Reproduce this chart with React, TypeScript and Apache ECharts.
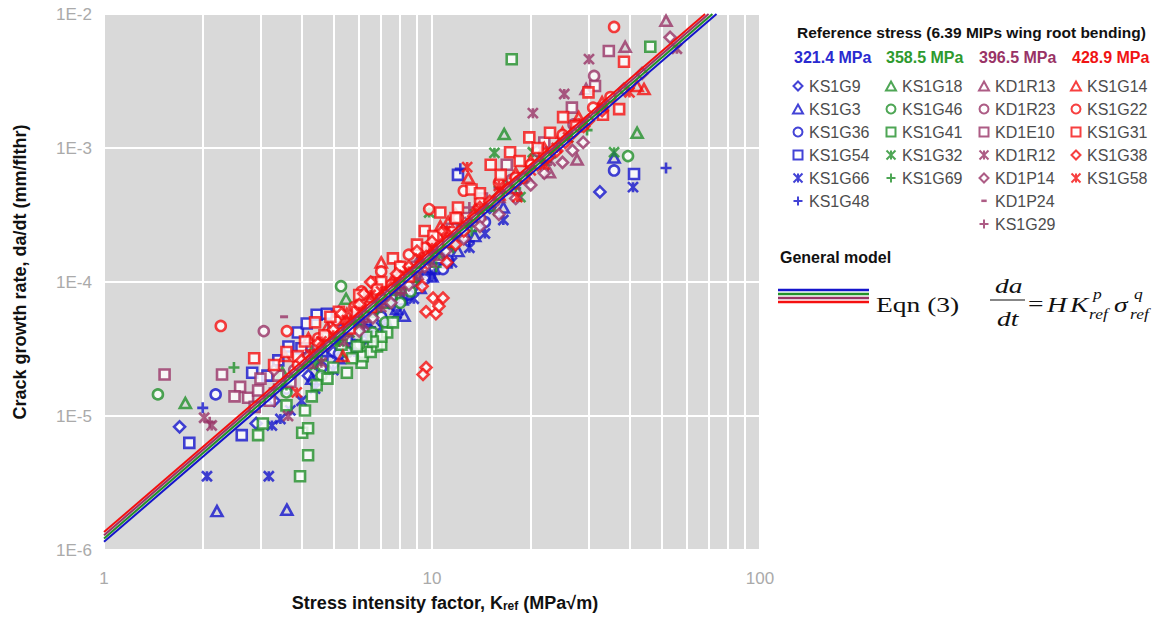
import React, { useEffect, useRef } from "react";
import * as echarts from "echarts";

// ---------- axis ticks ----------
const xMinorTicks = [2, 3, 4, 5, 6, 7, 8, 9, 20, 30, 40, 50, 60, 70, 80, 90];
const yMinorTicks = [
  2e-6, 3e-6, 4e-6, 5e-6, 6e-6, 7e-6, 8e-6, 9e-6,
  2e-5, 3e-5, 4e-5, 5e-5, 6e-5, 7e-5, 8e-5, 9e-5,
  2e-4, 3e-4, 4e-4, 5e-4, 6e-4, 7e-4, 8e-4, 9e-4,
  2e-3, 3e-3, 4e-3, 5e-3, 6e-3, 7e-3, 8e-3, 9e-3,
];

// ---------- stress groups ----------
const stressGroups = ["321.4 MPa", "358.5 MPa", "396.5 MPa", "428.9 MPa"];

// ---------- 321.4 MPa ----------
const KS1G9 = [[1.7, 8.3e-6], [2.91, 8.8e-6], [32.5, 4.7e-4], [3.3, 1.3e-5], [4.2, 2.0e-5], [5.0, 3.0e-5], [6.2, 4.6e-5], [7.4, 7.0e-5], [8.8, 1.0e-4], [10.5, 1.6e-4], [12.5, 2.4e-4], [15, 3.6e-4], [18.5, 5.8e-4], [5.6, 3.5e-5], [9.5, 1.2e-4], [11.5, 1.9e-4]];
const KS1G3 = [[2.21, 1.95e-6], [3.61, 2.0e-6], [8.1, 7.4e-5], [8.22, 5.6e-5], [35.9, 8.5e-4], [4.3, 1.9e-5], [5.2, 2.7e-5], [6.3, 4.0e-5], [7.2, 5.2e-5], [9.2, 9.0e-5], [11, 1.4e-4], [13.5, 2.2e-4], [16.5, 3.6e-4], [5.8, 3.3e-5], [7.8, 6.3e-5], [10, 1.1e-4], [12, 1.7e-4]];
const KS1G36 = [[2.19, 1.45e-5], [35.9, 6.8e-4], [10.8, 1.25e-4], [11.2, 1.45e-4], [3.6, 1.6e-5], [4.6, 2.3e-5], [5.8, 3.4e-5], [7.0, 5.5e-5], [8.5, 8.0e-5], [12.5, 2.2e-4], [14.5, 2.8e-4], [5.2, 2.9e-5], [6.4, 4.4e-5], [9.5, 1.05e-4]];
const KS1G54 = [[1.82, 6.3e-6], [2.63, 7.2e-6], [41.3, 6.4e-4], [2.83, 2.1e-5], [3.15, 2.0e-5], [3.65, 3.3e-5], [3.9, 4.2e-5], [4.15, 4.9e-5], [4.45, 5.7e-5], [4.78, 5.8e-5], [12.0, 6.3e-4], [3.4, 2.6e-5], [5.2, 4.4e-5], [6.0, 5.2e-5], [7.5, 8.0e-5], [9.5, 1.3e-4], [11.5, 2.0e-4], [4.0, 3.2e-5], [5.5, 3.8e-5], [6.5, 6.2e-5], [8.4, 1.0e-4], [10.5, 1.5e-4]];
const KS1G66 = [[2.06, 3.55e-6], [3.18, 3.55e-6], [41.0, 5.1e-4], [3.25, 8.5e-6], [3.45, 9.5e-6], [3.7, 1.1e-5], [4.0, 1.3e-5], [4.4, 1.6e-5], [5.0, 2.2e-5], [5.8, 3.0e-5], [7.0, 4.6e-5], [8.8, 7.5e-5], [11.5, 1.4e-4], [14.5, 2.3e-4], [6.4, 3.7e-5], [7.8, 5.8e-5], [10, 1.1e-4], [13, 1.8e-4], [16.5, 2.9e-4]];
const KS1G48 = [[2.0, 1.15e-5], [51.7, 7.1e-4], [12.2, 7.0e-4], [4.8, 2.8e-5], [6.5, 4.6e-5], [8.4, 7.5e-5], [10.2, 1.15e-4], [13, 2.0e-4]];

// ---------- 358.5 MPa ----------
const KS1G18 = [[1.77, 1.25e-5], [42.2, 1.3e-3], [16.6, 1.27e-3], [5.47, 7.5e-5], [3.5, 2.1e-5], [4.3, 3.0e-5], [6.5, 6.0e-5], [7.8, 9.0e-5], [9.6, 1.5e-4], [12.5, 2.8e-4], [5.0, 4.2e-5], [5.8, 5.0e-5], [7.2, 7.0e-5], [8.6, 1.1e-4], [11, 2.0e-4]];
const KS1G46 = [[1.46, 1.45e-5], [39.6, 8.7e-4], [5.28, 9.3e-5], [4.6, 2.0e-5], [6.0, 3.4e-5], [7.2, 5.0e-5], [8.6, 8.5e-5], [3.6, 1.5e-5], [5.5, 3.0e-5], [6.6, 4.2e-5], [8, 7.0e-5]];
const KS1G41 = [[17.5, 4.6e-3], [46.3, 5.7e-3], [3.96, 3.55e-6], [4.19, 5.1e-6], [4.02, 7.5e-6], [4.19, 8.1e-6], [2.95, 7.2e-6], [3.05, 8.8e-6], [4.1, 1.1e-5], [4.45, 1.7e-5], [5.0, 2.3e-5], [5.5, 2.1e-5], [6.1, 2.5e-5], [6.15, 2.8e-5], [6.5, 3.0e-5], [6.8, 3.3e-5], [7.0, 3.4e-5], [7.3, 4.2e-5], [7.0, 3.9e-5], [6.6, 3.6e-5], [5.7, 2.7e-5], [4.8, 1.9e-5], [3.6, 1.2e-5], [5.3, 3.4e-5], [5.9, 3.3e-5], [6.3, 3.9e-5], [7.6, 5.0e-5], [4.3, 1.4e-5]];
const KS1G32 = [[35.9, 9.3e-4], [20.3, 9.3e-4], [15.5, 9.2e-4], [18.6, 4.3e-4], [8.7, 1.2e-4], [9.8, 3.3e-4], [6.0, 5.0e-5], [7.3, 7.5e-5], [11.5, 2.0e-4], [13.5, 3.2e-4], [16, 4.8e-4], [5.2, 3.6e-5], [4.4, 2.4e-5], [5.6, 4.2e-5], [6.6, 6.2e-5], [8.0, 9.5e-5], [10.5, 1.6e-4], [12.5, 2.5e-4], [14.5, 3.8e-4], [17, 5.5e-4], [22, 8.0e-4], [26, 1.2e-3]];
const KS1G69 = [[2.49, 2.3e-5], [29.7, 1.36e-3], [3.6, 1.7e-5], [4.6, 2.6e-5], [5.9, 4.6e-5], [7.8, 8.0e-5], [10.3, 1.3e-4], [13.2, 2.4e-4], [18, 5.0e-4], [23, 8.5e-4], [5.2, 3.6e-5], [6.8, 6.0e-5], [9, 1.0e-4], [11.6, 1.8e-4], [15.5, 3.4e-4]];

// ---------- 396.5 MPa ----------
const KD1R13 = [[51.7, 8.9e-3], [38.8, 5.7e-3], [29.5, 2.75e-3], [27.7, 8.2e-4], [22.8, 6.6e-4], [4.2, 2.5e-5], [5.5, 4.3e-5], [7.0, 7.5e-5], [9.0, 1.15e-4], [12, 2.2e-4], [16, 4.3e-4], [19.5, 6.0e-4], [25, 1.2e-3], [6.2, 5.5e-5], [8, 9.0e-5], [10.5, 1.6e-4], [14, 3.2e-4], [18, 5.0e-4]];
const KD1R23 = [[3.07, 4.3e-5], [31.2, 3.45e-3], [4.5, 3.5e-5], [6.0, 5.5e-5], [8.0, 1.05e-4], [10.5, 1.9e-4], [14, 3.0e-4], [17.5, 5.8e-4], [21, 9.5e-4], [27, 1.5e-3], [3.8, 2.2e-5], [5.2, 4.2e-5], [7, 7.5e-5], [9.2, 1.4e-4], [12, 2.4e-4], [15.5, 4.0e-4]];
const KD1E10 = [[1.53, 2.04e-5], [2.29, 2.04e-5], [34.6, 5.3e-3], [31.4, 2.9e-3], [26.7, 2.0e-3], [2.6, 1.65e-5], [2.75, 1.37e-5], [2.95, 1.55e-5], [2.88, 1.17e-5], [3.2, 1.3e-5], [3.4, 2.0e-5], [3.7, 1.8e-5], [4.1, 2.6e-5], [5.0, 4.6e-5], [6.2, 5.8e-5], [7.2, 8.0e-5], [9.0, 1.3e-4], [11.5, 2.5e-4], [14.2, 4.2e-4], [16.9, 7.5e-4], [22, 1.1e-3], [2.5, 1.4e-5], [3.0, 1.9e-5], [4.5, 3.4e-5], [5.6, 4.6e-5], [8.0, 1.0e-4], [10, 1.7e-4], [12.8, 3.0e-4]];
const KD1R12 = [[2.02, 9.7e-6], [2.13, 8.5e-6], [30.1, 4.6e-3], [25.3, 2.53e-3], [20.3, 1.82e-3], [55.8, 5.5e-3], [3.64, 1.0e-5], [4.6, 2.5e-5], [6.2, 4.8e-5], [8.0, 8.5e-5], [10, 1.4e-4], [13, 2.8e-4], [17, 5.0e-4], [23, 8.0e-4], [5.4, 3.6e-5], [7.0, 6.5e-5], [9.0, 1.1e-4], [11.5, 2.1e-4], [15, 3.8e-4], [19, 6.0e-4]];
const KD1P14 = [[53.2, 6.7e-3], [43.7, 3.6e-3], [38.5, 2.75e-3], [28.9, 1.1e-3], [26.8, 9.6e-4], [3.3, 2.2e-5], [4.2, 2.8e-5], [6.0, 4.3e-5], [7.5, 7.0e-5], [8.5, 9.5e-5], [11, 1.7e-4], [14, 2.6e-4], [18, 4.2e-4], [22, 6.5e-4], [33, 1.9e-3], [5.2, 6.0e-5], [4.8, 3.4e-5], [6.6, 5.4e-5], [9.5, 1.3e-4], [12.5, 2.1e-4], [16, 3.2e-4], [20, 5.3e-4], [25, 7.8e-4]];
const KD1P24 = [[3.54, 5.5e-5], [9.2, 1.5e-4], [13.5, 3.3e-4], [6.5, 6.5e-5]];
const KS1G29 = [[2.1, 9.0e-6], [3.3, 1.6e-5], [4.5, 3.0e-5], [7.0, 6.5e-5], [10, 1.7e-4], [13, 3.6e-4], [16, 5.0e-4]];

// ---------- 428.9 MPa ----------
const KS1G14 = [[42.2, 2.9e-3], [44.3, 2.75e-3], [3.56, 2.8e-5], [4.2, 3.8e-5], [5.35, 2.8e-5], [5.5, 5.8e-5], [6.5, 7.5e-5], [7.0, 1.4e-4], [8.2, 1.2e-4], [9.2, 1.4e-4], [10.6, 2.6e-4], [12.9, 6.0e-4], [16, 4.5e-4], [20, 8.0e-4], [25, 1.3e-3], [33, 2.2e-3], [4.8, 4.6e-5], [11.8, 3.2e-4], [5.9, 6.8e-5], [7.6, 1.05e-4], [9.8, 1.8e-4], [11.2, 2.8e-4], [13.8, 3.8e-4], [18, 6.5e-4], [22, 1.0e-3], [28, 1.7e-3]];
const KS1G22 = [[2.27, 4.7e-5], [35.9, 8.0e-3], [3.61, 4.3e-5], [4.5, 3.8e-5], [5.8, 6.5e-5], [7.5, 9.5e-5], [9.5, 1.8e-4], [9.8, 3.5e-4], [11, 2.3e-4], [14, 4.0e-4], [18, 6.0e-4], [22, 9.0e-4], [28, 1.5e-3], [35, 2.4e-3], [6.6, 1.0e-4], [12.5, 4.8e-4], [8.5, 1.6e-4], [3.9, 2.4e-5], [5.1, 5.2e-5], [6.1, 8.5e-5], [7.0, 1.2e-4], [8.0, 1.3e-4], [10.4, 2.2e-4], [12, 3.0e-4], [16, 5.5e-4], [20, 7.5e-4], [25, 1.25e-3], [31, 2.0e-3]];
const KS1G31 = [[2.87, 2.7e-5], [38.5, 4.4e-3], [37.2, 1.95e-3], [3.3, 2.4e-5], [3.9, 2.8e-5], [4.1, 3.6e-5], [4.7, 4.0e-5], [5.6, 4.5e-5], [5.2, 6.0e-5], [6.5, 6.5e-5], [6.0, 8.0e-5], [7.6, 1.5e-4], [8.5, 1.1e-4], [9.5, 2.4e-4], [10.6, 3.3e-4], [12.0, 3.6e-4], [13.2, 4.9e-4], [15.1, 7.5e-4], [17.3, 9.3e-4], [19.8, 1.2e-3], [22.9, 1.3e-3], [25.1, 1.7e-3], [33.2, 1.77e-3], [30, 2.6e-3], [7.0, 1.0e-4], [11.2, 2.0e-4], [4.4, 5.0e-5], [3.6, 3.0e-5], [4.9, 5.5e-5], [5.9, 6.0e-5], [6.8, 8.8e-5], [8.0, 1.3e-4], [9.0, 1.9e-4], [10.1, 2.2e-4], [11.8, 3.0e-4], [14, 4.6e-4], [16.2, 6.3e-4], [18.5, 8.0e-4], [21, 1.0e-3], [27.5, 1.45e-3]];
const KS1G38 = [[9.33, 9.3e-5], [10.07, 7.6e-5], [10.8, 7.6e-5], [9.59, 6.0e-5], [10.28, 5.8e-5], [10.5, 6.6e-5], [9.59, 2.3e-5], [9.39, 2.04e-5], [4.5, 3.5e-5], [5.5, 5.0e-5], [6.5, 1.0e-4], [7.5, 9.0e-5], [8.5, 1.3e-4], [9.0, 1.7e-4], [11.1, 1.4e-4], [11.8, 1.9e-4], [12.5, 2.4e-4], [13.4, 3.1e-4], [15, 4.0e-4], [17, 5.0e-4], [19, 6.0e-4], [21, 7.5e-4], [24, 9.5e-4], [27, 1.3e-3], [30, 1.6e-3], [4.0, 2.6e-5], [5.0, 4.4e-5], [6.0, 6.8e-5], [8.0, 1.1e-4], [10.0, 2.0e-4], [5.3, 5.8e-5], [6.2, 8.2e-5], [7.0, 7.8e-5], [7.8, 1.15e-4], [9.6, 1.55e-4], [10.8, 2.4e-4], [14, 3.6e-4], [16, 4.4e-4], [18, 5.5e-4], [22.5, 8.5e-4], [25.5, 1.1e-3], [29, 1.45e-3], [33, 1.9e-3]];
const KS1G58 = [[3.87, 1.5e-5], [4.25, 2.9e-5], [5.0, 4.0e-5], [6.0, 6.0e-5], [7.0, 8.5e-5], [8.5, 1.2e-4], [10, 1.8e-4], [12.8, 7.2e-4], [14, 3.5e-4], [18.2, 4.3e-4], [22, 7.5e-4], [26, 1.2e-3], [33, 2.0e-3], [40, 2.6e-3], [4.6, 3.6e-5], [5.5, 5.2e-5], [6.5, 8.0e-5], [7.8, 1.0e-4], [9.2, 1.5e-4], [11, 2.4e-4], [16, 5.2e-4], [20, 6.8e-4], [24, 1.0e-3], [29, 1.5e-3]];

// ---------- general model lines (end points) ----------
const modelBlue = [[1, 1.15e-6], [73.7, 1e-2]];
const modelGreen = [[1, 1.22e-6], [71.6, 1e-2]];
const modelPurple = [[1, 1.29e-6], [69.7, 1e-2]];
const modelRed = [[1, 1.36e-6], [68.0, 1e-2]];

// ---------- styling ----------
const FONT = "'Liberation Sans', Arial, Helvetica, sans-serif";
const SERIF = "'Liberation Serif', 'Times New Roman', serif";
const COLORS = ["#1414cc", "#22902a", "#993366", "#f51010"];
const HEADER_COLORS = ["#2a2ad0", "#2e9a2e", "#993366", "#f01414"];
const TRANSPARENT = "rgba(0,0,0,0)";

const SHAPES: Record<string, { symbol: string; size: any; fill: string | null }> = {
  diamond: { symbol: "path://M5,0L10,5L5,10L0,5Z", size: 11, fill: "#ffffff" },
  triangle: { symbol: "path://M5,0L10,9L0,9Z", size: [11, 10], fill: TRANSPARENT },
  circle: { symbol: "circle", size: 10, fill: "#ffffff" },
  square: { symbol: "path://M0,0L10,0L10,10L0,10Z", size: 10, fill: "#ffffff" },
  asterisk: { symbol: "path://M0,0L10,10M10,0L0,10M5,0L5,10", size: 10, fill: TRANSPARENT },
  plus: { symbol: "path://M5,0L5,10M0,5L10,5", size: 11, fill: TRANSPARENT },
  dash: { symbol: "path://M0,0L10,0L10,3L0,3Z", size: [8, 3], fill: null },
};

const SPECIMENS: { name: string; group: number; shape: string; data: number[][] }[] = [
  { name: "KS1G9", group: 0, shape: "diamond", data: KS1G9 },
  { name: "KS1G3", group: 0, shape: "triangle", data: KS1G3 },
  { name: "KS1G36", group: 0, shape: "circle", data: KS1G36 },
  { name: "KS1G54", group: 0, shape: "square", data: KS1G54 },
  { name: "KS1G66", group: 0, shape: "asterisk", data: KS1G66 },
  { name: "KS1G48", group: 0, shape: "plus", data: KS1G48 },
  { name: "KS1G18", group: 1, shape: "triangle", data: KS1G18 },
  { name: "KS1G46", group: 1, shape: "circle", data: KS1G46 },
  { name: "KS1G41", group: 1, shape: "square", data: KS1G41 },
  { name: "KS1G32", group: 1, shape: "asterisk", data: KS1G32 },
  { name: "KS1G69", group: 1, shape: "plus", data: KS1G69 },
  { name: "KD1R13", group: 2, shape: "triangle", data: KD1R13 },
  { name: "KD1R23", group: 2, shape: "circle", data: KD1R23 },
  { name: "KD1E10", group: 2, shape: "square", data: KD1E10 },
  { name: "KD1R12", group: 2, shape: "asterisk", data: KD1R12 },
  { name: "KD1P14", group: 2, shape: "diamond", data: KD1P14 },
  { name: "KD1P24", group: 2, shape: "dash", data: KD1P24 },
  { name: "KS1G29", group: 2, shape: "plus", data: KS1G29 },
  { name: "KS1G14", group: 3, shape: "triangle", data: KS1G14 },
  { name: "KS1G22", group: 3, shape: "circle", data: KS1G22 },
  { name: "KS1G31", group: 3, shape: "square", data: KS1G31 },
  { name: "KS1G38", group: 3, shape: "diamond", data: KS1G38 },
  { name: "KS1G58", group: 3, shape: "asterisk", data: KS1G58 },
];

const LEGEND_LEFT = [792, 885, 978, 1070];
const HEADER_X = [794, 886, 979, 1072];

function buildOption() {
  const scatterSeries = SPECIMENS.map((s) => {
    const sh = SHAPES[s.shape];
    const c = COLORS[s.group];
    const isDash = s.shape === "dash";
    return {
      type: "scatter",
      name: s.name,
      data: s.data,
      symbol: sh.symbol,
      symbolSize: sh.size,
      z: 2,
      silent: true,
      itemStyle: isDash
        ? { color: c, borderWidth: 0 }
        : { color: sh.fill, borderColor: c, borderWidth: 2.6 },
      emphasis: { disabled: true },
    };
  });

  const modelLines = [modelBlue, modelGreen, modelPurple, modelRed].map((d, i) => ({
    type: "line",
    name: "model" + i,
    data: d,
    symbol: "none",
    silent: true,
    z: 3,
    lineStyle: { color: COLORS[i], width: 2 },
    emphasis: { disabled: true },
  }));

  const gridSeries = {
    type: "line",
    name: "minorGrid",
    data: [],
    silent: true,
    z: 1,
    markLine: {
      silent: true,
      z: 1,
      animation: false,
      symbol: ["none", "none"],
      label: { show: false },
      emphasis: { disabled: true },
      lineStyle: { color: "#ffffff", width: 2, type: "solid", opacity: 1 },
      data: [
        ...xMinorTicks.map((v) => ({ xAxis: v })),
        ...yMinorTicks.map((v) => ({ yAxis: v })),
      ],
    },
  };

  const legends = stressGroups.map((_, g) => ({
    orient: "vertical",
    left: LEGEND_LEFT[g],
    top: 78,
    padding: 0,
    itemWidth: 12,
    itemHeight: 9,
    itemGap: 7,
    selectedMode: false,
    textStyle: { fontSize: 16, color: "#4d4d4d", fontFamily: FONT, lineHeight: 16 },
    data: SPECIMENS.filter((s) => s.group === g).map((s) =>
      s.shape === "dash"
        ? { name: s.name, icon: "path://M0,0M2,3.4L8,3.4L8,6.2L2,6.2ZM10,10" }
        : { name: s.name }
    ),
  }));

  const txt = (x: number, y: number, text: string, font: string, fill: string, extra: any = {}) => ({
    type: "text",
    x,
    y,
    silent: true,
    ...extra,
    style: {
      text,
      font,
      fill,
      align: extra.align || "left",
      verticalAlign: "middle",
      textAlign: extra.align || "left",
      textVerticalAlign: "middle",
      ...(extra.style || {}),
    },
  });

  const eqFont = `22px ${SERIF}`;
  const eqItalic = `italic 22px ${SERIF}`;
  const eqSmall = `italic 14px ${SERIF}`;
  const INK = "#111111";
  const S = { scaleX: 1.25 };
  const dx = 6;

  const graphic: any[] = [
    txt(797, 32, "Reference stress (6.39 MIPs wing root bending)", `bold 15.5px ${FONT}`, INK),
    ...stressGroups.map((g, i) => txt(HEADER_X[i], 57, g, `bold 16px ${FONT}`, HEADER_COLORS[i])),
    txt(780, 257, "General model", `bold 16px ${FONT}`, INK),
    ...COLORS.map((c, i) => ({
      type: "line",
      silent: true,
      shape: { x1: 778, y1: 290 + i * 4, x2: 869, y2: 290 + i * 4 },
      style: { stroke: c, lineWidth: 2.5 },
    })),
    txt(876, 304, "Eqn (3)", eqFont, INK, S),
    txt(989 + dx, 285, "da", eqItalic, INK, S),
    {
      type: "line",
      silent: true,
      shape: { x1: 984 + dx, y1: 300, x2: 1019 + dx, y2: 300 },
      style: { stroke: INK, lineWidth: 1.2 },
    },
    txt(991 + dx, 318, "dt", eqItalic, INK, S),
    txt(1022 + dx, 303, "=", eqFont, INK, S),
    txt(1041 + dx, 304, "H", eqItalic, INK, S),
    txt(1064 + dx, 304, "K", eqItalic, INK, S),
    txt(1087 + dx, 294, "p", eqSmall, INK, S),
    txt(1083 + dx, 314, "ref", eqSmall, INK, S),
    txt(1108 + dx, 304, "σ", eqItalic, INK, S),
    txt(1128 + dx, 294, "q", eqSmall, INK, S),
    txt(1124 + dx, 314, "ref", eqSmall, INK, S),
    // axis titles
    {
      type: "text",
      x: 445,
      y: 603,
      silent: true,
      style: {
        text: "Stress intensity factor, K{s|ref} (MPa√m)",
        font: `bold 18px ${FONT}`,
        fill: INK,
        align: "center",
        verticalAlign: "middle",
        textAlign: "center",
        textVerticalAlign: "middle",
        rich: {
          s: { fontSize: 12, fontWeight: "bold", fontFamily: FONT, fill: INK, verticalAlign: "bottom", lineHeight: 12 },
        },
      },
    },
    {
      type: "text",
      x: 20,
      y: 272,
      rotation: Math.PI / 2,
      silent: true,
      style: {
        text: "Crack growth rate, da/dt (mm/flthr)",
        font: `bold 18px ${FONT}`,
        fill: INK,
        align: "center",
        verticalAlign: "middle",
        textAlign: "center",
        textVerticalAlign: "middle",
      },
    },
  ];

  return {
    animation: false,
    backgroundColor: "#ffffff",
    textStyle: { fontFamily: FONT },
    grid: {
      left: 104,
      top: 14,
      width: 656,
      height: 536,
      show: true,
      backgroundColor: "#d9d9d9",
      borderWidth: 0,
      containLabel: false,
    },
    legend: legends,
    xAxis: {
      type: "log",
      logBase: 10,
      min: 1,
      max: 100,
      axisLine: { show: false },
      axisTick: { show: false },
      axisLabel: { color: "#aaaaaa", fontSize: 17, margin: 20, fontFamily: FONT },
      splitLine: { show: true, lineStyle: { color: "#ffffff", width: 2 } },
    },
    yAxis: {
      type: "log",
      logBase: 10,
      min: 1e-6,
      max: 1e-2,
      axisLine: { show: false },
      axisTick: { show: false },
      axisLabel: {
        color: "#aaaaaa",
        fontSize: 17,
        margin: 12,
        fontFamily: FONT,
        formatter: (v: number) => "1E" + Math.round(Math.log10(v)),
      },
      splitLine: { show: true, lineStyle: { color: "#ffffff", width: 2 } },
    },
    graphic,
    series: [gridSeries, ...scatterSeries, ...modelLines],
  };
}

export default function App() {
  const ref = useRef<HTMLDivElement>(null);
  useEffect(() => {
    if (!ref.current) return;
    const chart = echarts.init(ref.current, undefined, { renderer: "svg" });
    chart.setOption(buildOption() as any);
    return () => chart.dispose();
  }, []);
  return (
    <div
      ref={ref}
      style={{ position: "fixed", left: 0, top: 0, width: 1171, height: 617, background: "#fff" }}
    />
  );
}
